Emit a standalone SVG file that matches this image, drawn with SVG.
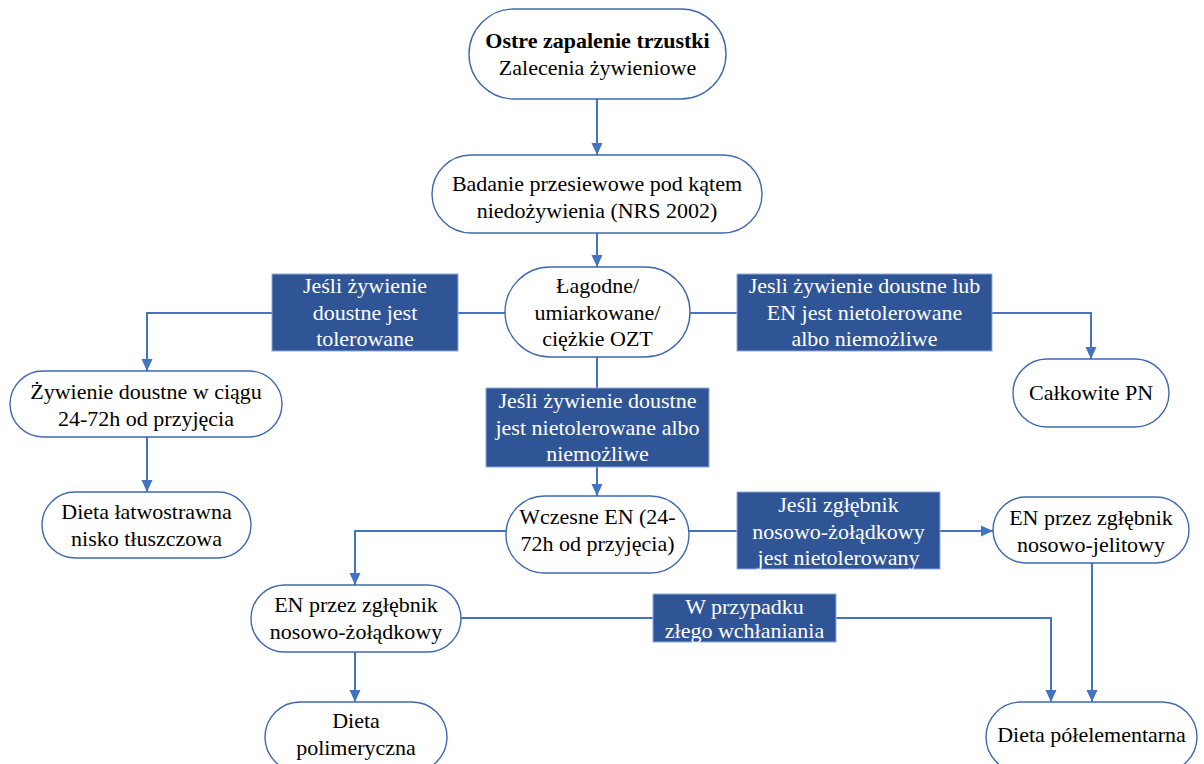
<svg xmlns="http://www.w3.org/2000/svg" width="1204" height="764" viewBox="0 0 1204 764">
<style>
.n{fill:#fff;stroke:#3F68B0;stroke-width:1.4}
.l{fill:#2F5597;stroke:#8FAADC;stroke-width:1}
.c{fill:none;stroke:#4472C4;stroke-width:2}
.t text{font-size:22px;text-anchor:middle;fill:#000}
.t text.w{fill:#fff}
.t text.b{font-weight:bold}
</style>
<defs>
<marker id="a" markerUnits="userSpaceOnUse" markerWidth="14" markerHeight="14" viewBox="0 0 14 14" refX="12" refY="7" orient="auto">
<path d="M0,1.5 L12,7 L0,12.5 Z" fill="#4472C4"/>
</marker>
</defs>
<rect width="1204" height="764" fill="#fff"/>
<g id="connectors">
<path class="c" d="M597,99 V155" marker-end="url(#a)"/>
<path class="c" d="M597,233 V267" marker-end="url(#a)"/>
<path class="c" d="M505,313 H147 V371" marker-end="url(#a)"/>
<path class="c" d="M690,313 H1091 V359" marker-end="url(#a)"/>
<path class="c" d="M597,357 V496" marker-end="url(#a)"/>
<path class="c" d="M147,437 V492" marker-end="url(#a)"/>
<path class="c" d="M506,531 H355 V585" marker-end="url(#a)"/>
<path class="c" d="M689,531 H993" marker-end="url(#a)"/>
<path class="c" d="M1092,563 V702" marker-end="url(#a)"/>
<path class="c" d="M461,618 H1051 V702" marker-end="url(#a)"/>
<path class="c" d="M355,652 V702" marker-end="url(#a)"/>
</g>
<g class="t" font-family="'Liberation Serif', 'Times New Roman', 'DejaVu Serif', serif">
<g id="n1"><rect class="n" x="469" y="9" width="257" height="90" rx="45"/>
<text class="b" x="597.5" y="48">Ostre zapalenie trzustki</text>
<text x="597.5" y="75">Zalecenia żywieniowe</text></g>
<g id="n2"><rect class="n" x="432" y="155" width="330" height="78" rx="39"/>
<text x="597" y="191">Badanie przesiewowe pod kątem</text>
<text x="597" y="218">niedożywienia (NRS 2002)</text></g>
<g id="n3"><rect class="n" x="505" y="267" width="185" height="90" rx="45"/>
<text x="597.5" y="293">Łagodne/</text>
<text x="597.5" y="320">umiarkowane/</text>
<text x="597.5" y="346">ciężkie OZT</text></g>
<g id="l1"><rect class="l" x="272" y="274" width="186" height="77"/>
<text class="w" x="365" y="293">Jeśli żywienie</text>
<text class="w" x="365" y="320">doustne jest</text>
<text class="w" x="365" y="346">tolerowane</text></g>
<g id="l3"><rect class="l" x="737" y="274" width="255" height="77"/>
<text class="w" x="864.5" y="293">Jesli żywienie doustne lub</text>
<text class="w" x="864.5" y="320">EN jest nietolerowane</text>
<text class="w" x="864.5" y="346">albo niemożliwe</text></g>
<g id="l2"><rect class="l" x="486" y="388" width="223" height="79"/>
<text class="w" x="597.5" y="408">Jeśli żywienie doustne</text>
<text class="w" x="597.5" y="435">jest nietolerowane albo</text>
<text class="w" x="597.5" y="461">niemożliwe</text></g>
<g id="n4"><rect class="n" x="10" y="371" width="272" height="66" rx="33"/>
<text x="146" y="399">Żywienie doustne w ciągu</text>
<text x="146" y="426">24-72h od przyjęcia</text></g>
<g id="n5"><rect class="n" x="1013" y="359" width="156" height="68" rx="34"/>
<text x="1091" y="400">Całkowite PN</text></g>
<g id="n6"><rect class="n" x="42" y="492" width="209" height="66" rx="33"/>
<text x="146.5" y="519">Dieta łatwostrawna</text>
<text x="146.5" y="546">nisko tłuszczowa</text></g>
<g id="n7"><rect class="n" x="506" y="496" width="183" height="77" rx="38.5"/>
<text x="597.5" y="524">Wczesne EN (24-</text>
<text x="597.5" y="551">72h od przyjęcia)</text></g>
<g id="l4"><rect class="l" x="737" y="492" width="203" height="77"/>
<text class="w" x="838.5" y="512">Jeśli zgłębnik</text>
<text class="w" x="838.5" y="539">nosowo-żołądkowy</text>
<text class="w" x="838.5" y="565">jest nietolerowany</text></g>
<g id="n8"><rect class="n" x="993" y="497" width="196" height="66" rx="33"/>
<text x="1091" y="525">EN przez zgłębnik</text>
<text x="1091" y="552">nosowo-jelitowy</text></g>
<g id="n9"><rect class="n" x="251" y="585" width="210" height="67" rx="33.5"/>
<text x="356" y="612">EN przez zgłębnik</text>
<text x="356" y="639">nosowo-żołądkowy</text></g>
<g id="l5"><rect class="l" x="653" y="594" width="183" height="48"/>
<text class="w" x="744.5" y="614">W przypadku</text>
<text class="w" x="744.5" y="638">złego wchłaniania</text></g>
<g id="n10"><rect class="n" x="265" y="702" width="182" height="70" rx="35"/>
<text x="356" y="728">Dieta</text>
<text x="356" y="755">polimeryczna</text></g>
<g id="n11"><rect class="n" x="986" y="702" width="211" height="70" rx="35"/>
<text x="1091.5" y="742">Dieta półelementarna</text></g>
</g>
</svg>
